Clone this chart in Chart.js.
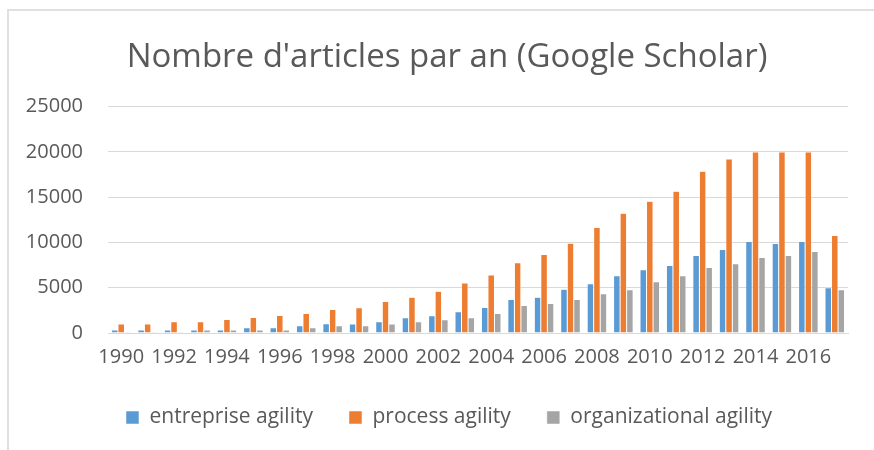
<!DOCTYPE html>
<html>
<head>
<meta charset="utf-8">
<script src="https://cdn.jsdelivr.net/npm/chart.js@4.4.1/dist/chart.umd.min.js"></script>
<style>
  html, body { margin: 0; padding: 0; background: #fff; }
  #wrap { position: relative; width: 874px; height: 450px; overflow: hidden; }
  #frame { position: absolute; left: 7px; top: 9px; width: 900px; height: 500px;
           border-left: 2px solid #e0e0e0; border-top: 2px solid #e0e0e0; }
  canvas { position: absolute; left: 0; top: 0; }
</style>
</head>
<body>
<div id="wrap">
  <div id="frame"></div>
  <canvas id="articlesChart" width="874" height="450"></canvas>
</div>
<script>
var years = ['1990', '1991', '1992', '1993', '1994', '1995', '1996', '1997', '1998', '1999',
  '2000', '2001', '2002', '2003', '2004', '2005', '2006', '2007', '2008', '2009',
  '2010', '2011', '2012', '2013', '2014', '2015', '2016', '2017'];

var entrepriseAgility = [340, 340, 340, 340, 340, 570, 570, 800, 1020, 1000,
  1240, 1690, 1910, 2360, 2810, 3710, 3940, 4840, 5450, 6330,
  6990, 7440, 8550, 9210, 10100, 9880, 10100, 5000];

var processAgility = [1000, 1000, 1250, 1250, 1480, 1700, 1930, 2160, 2600, 2800,
  3490, 3940, 4610, 5510, 6410, 7760, 8660, 9900, 11660, 13210,
  14540, 15650, 17870, 19200, 20000, 20000, 20000, 10770];

var organizationalAgility = [100, 100, 100, 340, 340, 340, 340, 570, 800, 800,
  1000, 1240, 1460, 1690, 2140, 3040, 3260, 3710, 4330, 4770,
  5660, 6330, 7220, 7660, 8330, 8550, 8990, 4770];

var yTicks = [0, 5000, 10000, 15000, 20000, 25000];

var textColor = '#595959';
var fontFamily = "'Open Sans', 'Liberation Sans', sans-serif";

// Excel centres title and legend a little to the right of the canvas middle
var nudgeBlocks = {
  id: 'nudgeBlocks',
  afterLayout: function(chart) {
    if (chart.titleBlock) chart.titleBlock.left += 26;
    if (chart.legend) {
      chart.legend.left += 30;
      chart.legend.top += 2;
      chart.legend.bottom += 2;
    }
  }
};

var ctx = document.getElementById('articlesChart').getContext('2d');
new Chart(ctx, {
  type: 'bar',
  data: {
    labels: years,
    datasets: [
      { label: 'entreprise agility', data: entrepriseAgility, backgroundColor: '#5b9bd5', borderColor: '#ffffff', borderWidth: 0.5 },
      { label: 'process agility', data: processAgility, backgroundColor: '#ed7d31', borderColor: '#ffffff', borderWidth: 0.5 },
      { label: 'organizational agility', data: organizationalAgility, backgroundColor: '#a5a5a5', borderColor: '#ffffff', borderWidth: 0.5 }
    ]
  },
  plugins: [nudgeBlocks],
  options: {
    responsive: false,
    animation: false,
    layout: { padding: { left: 20, right: 26, top: 0, bottom: 14 } },
    datasets: { bar: { categoryPercentage: 0.74, barPercentage: 1.0 } },
    plugins: {
      title: {
        display: true,
        text: "Nombre d'articles par an (Google Scholar)",
        color: textColor,
        font: { family: fontFamily, size: 33, weight: 'normal' },
        padding: { top: 38, bottom: 29 }
      },
      legend: {
        position: 'bottom',
        labels: {
          color: textColor,
          font: { family: fontFamily, size: 21 },
          boxWidth: 13,
          boxHeight: 13,
          padding: 36
        }
      },
      tooltip: { enabled: false }
    },
    scales: {
      x: {
        afterFit: function(scale) { scale.height = 36; },
        grid: { display: false, drawTicks: false },
        border: { color: '#d9d9d9', width: 1 },
        ticks: {
          color: textColor,
          font: { family: fontFamily, size: 20 },
          autoSkip: false,
          maxRotation: 0,
          padding: 12,
          callback: function(val, index) {
            return index % 2 === 0 ? this.getLabelForValue(val) : '';
          }
        }
      },
      y: {
        min: 0,
        max: 25000,
        afterFit: function(scale) { scale.width = 88; },
        afterBuildTicks: function(axis) {
          axis.ticks = yTicks.map(function(v) { return { value: v }; });
        },
        grid: { color: '#d9d9d9', lineWidth: 1, drawTicks: false },
        border: { display: false },
        ticks: {
          color: textColor,
          font: { family: fontFamily, size: 20 },
          padding: 25,
          callback: function(v) { return String(v); }
        }
      }
    }
  }
});
</script>
</body>
</html>
